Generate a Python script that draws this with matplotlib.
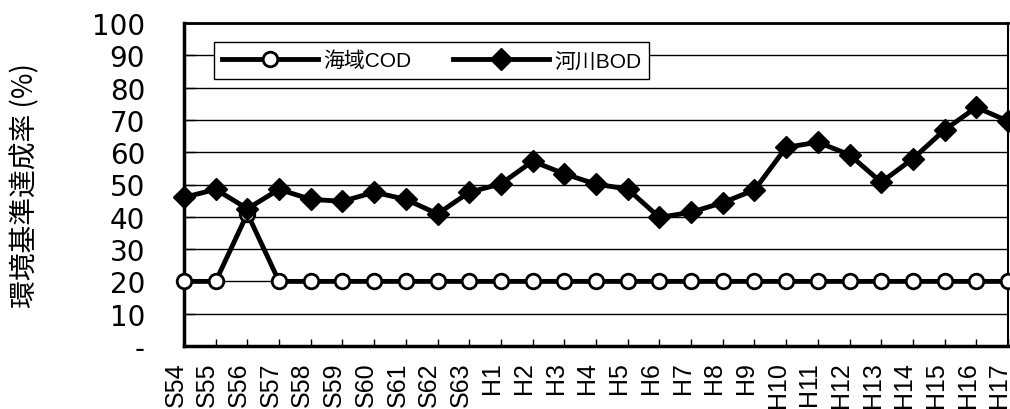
import matplotlib
matplotlib.use('Agg')
import matplotlib.pyplot as plt
from matplotlib.transforms import ScaledTranslation

plt.rcParams['font.family'] = ['Liberation Sans', 'Noto Sans CJK JP']

# years (Showa 54 .. Heisei 17)
years = ['S54', 'S55', 'S56', 'S57', 'S58', 'S59', 'S60', 'S61', 'S62', 'S63',
         'H1', 'H2', 'H3', 'H4', 'H5', 'H6', 'H7', 'H8', 'H9', 'H10',
         'H11', 'H12', 'H13', 'H14', 'H15', 'H16', 'H17']

# sea area COD
cod = [20, 20, 41, 20, 20, 20, 20, 20, 20, 20,
       20, 20, 20, 20, 20, 20, 20, 20, 20, 20,
       20, 20, 20, 20, 20, 20, 20]

# river BOD
bod = [46, 48.5, 42.5, 48.5, 45.4, 44.8, 47.6, 45.4, 40.9, 47.6,
       50.2, 57.2, 53.3, 50.1, 48.6, 39.8, 41.4, 44.4, 48.3, 61.5,
       63.1, 59.2, 50.7, 58, 66.9, 73.9, 69.6]

yticks = [0, 10, 20, 30, 40, 50, 60, 70, 80, 90, 100]
ytick_labels = ['-', '10', '20', '30', '40', '50', '60', '70', '80', '90', '100']

fig = plt.figure(figsize=(10.1, 4.1), dpi=100)
ax = fig.add_axes([184/1010, 1 - 347/410, (1008 - 184)/1010, (347 - 24)/410])

x = list(range(len(years)))

ax.plot(x, cod, color='black', lw=3.5, marker='o', markersize=10.5,
        markerfacecolor='white', markeredgecolor='black', markeredgewidth=2,
        label='海域COD', clip_on=False, zorder=3)
ax.plot(x, bod, color='black', lw=3.5, marker='D', markersize=11,
        markerfacecolor='black', markeredgecolor='black',
        label='河川BOD', clip_on=False, zorder=4)

ax.set_xlim(0, len(years) - 1)
ax.set_ylim(0, 100)
ax.set_yticks(yticks)
ax.set_yticklabels(ytick_labels, fontsize=20, family='DejaVu Sans')
ax.set_xticks(x)
ax.set_xticklabels(years, rotation=90, fontsize=18, va='top', ha='center')

ax.yaxis.grid(True, color='black', lw=1)
ax.set_axisbelow(True)
ax.tick_params(axis='y', direction='in', length=8, width=1, pad=28)
ax.tick_params(axis='x', direction='in', length=5, width=1, pad=11)

# labels sit a little left of their ticks
for lbl in ax.get_xticklabels():
    lbl.set_transform(lbl.get_transform() + ScaledTranslation(-8.5/100, 0, fig.dpi_scale_trans))

ax.spines['left'].set_linewidth(2.5)
ax.spines['bottom'].set_linewidth(2.5)
ax.spines['top'].set_linewidth(2)
ax.spines['right'].set_linewidth(1.5)

fig.text(25/1010, 1 - 186/410, '環境基準達成率 (%)', rotation=90,
         fontsize=20, ha='center', va='center',
         family=['Noto Sans CJK JP', 'DejaVu Sans'])

leg = ax.legend(loc='upper left', bbox_to_anchor=(0.036, 0.94), ncol=2,
                fontsize=15, frameon=True, fancybox=False, handlelength=4.6,
                columnspacing=2.0, handletextpad=0.25, borderpad=0.4,
                borderaxespad=0)
leg.get_frame().set_edgecolor('black')
leg.get_frame().set_linewidth(1)
leg.get_frame().set_alpha(1)

fig.savefig('out.png', dpi=100)
